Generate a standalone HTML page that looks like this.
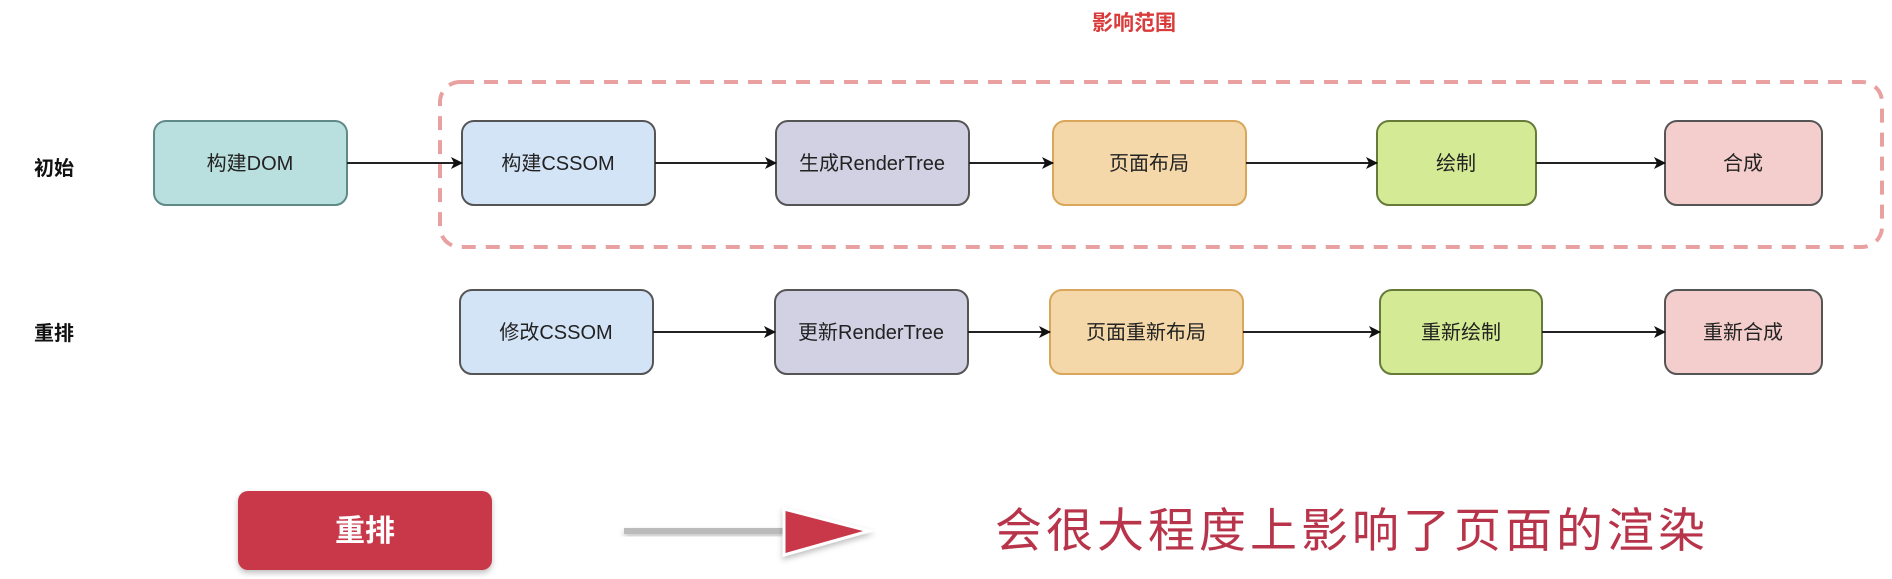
<!DOCTYPE html>
<html><head><meta charset="utf-8"><style>
html,body{margin:0;padding:0;background:#fff;}
svg{display:block;font-family:"Liberation Sans","Noto Sans CJK SC",sans-serif;}
</style></head><body>
<svg width="1892" height="579" viewBox="0 0 1892 579" xmlns="http://www.w3.org/2000/svg">
<defs>
<marker id="ar" markerWidth="12" markerHeight="12" refX="11" refY="6" orient="auto" markerUnits="userSpaceOnUse">
<path d="M0,0 L12,6 L0,12 L3,6 Z" fill="#111"/></marker>
<filter id="sh" x="-20%" y="-20%" width="140%" height="160%"><feDropShadow dx="0" dy="3" stdDeviation="3" flood-color="#000" flood-opacity="0.25"/></filter>
</defs>
<text x="1134" y="30" text-anchor="middle" font-size="21" font-weight="bold" fill="#d93a3a">影响范围</text>
<rect x="440" y="82" width="1442" height="165" rx="20" fill="none" stroke="#e8a0a0" stroke-width="4" stroke-dasharray="14,10"/>
<text x="34" y="175" font-size="20" font-weight="bold" fill="#111">初始</text>
<text x="34" y="340" font-size="20" font-weight="bold" fill="#111">重排</text>
<g stroke="#555" stroke-width="2" fill="#222">
<rect x="154" y="121" width="193" height="84" rx="12" fill="#b9e0de" stroke="#5f8a88"/>
<rect x="462" y="121" width="193" height="84" rx="12" fill="#d4e4f7"/>
<rect x="776" y="121" width="193" height="84" rx="12" fill="#d2d1e4"/>
<rect x="1053" y="121" width="193" height="84" rx="12" fill="#f4d8a9" stroke="#d9a65b"/>
<rect x="1377" y="121" width="159" height="84" rx="12" fill="#d4ea94" stroke="#667a3a"/>
<rect x="1665" y="121" width="157" height="84" rx="12" fill="#f4cecc"/>
<rect x="460" y="290" width="193" height="84" rx="12" fill="#d4e4f7"/>
<rect x="775" y="290" width="193" height="84" rx="12" fill="#d2d1e4"/>
<rect x="1050" y="290" width="193" height="84" rx="12" fill="#f4d8a9" stroke="#d9a65b"/>
<rect x="1380" y="290" width="162" height="84" rx="12" fill="#d4ea94" stroke="#667a3a"/>
<rect x="1665" y="290" width="157" height="84" rx="12" fill="#f4cecc"/>
</g>
<g stroke="#222" stroke-width="2" marker-end="url(#ar)">
<line x1="347" y1="163" x2="462" y2="163"/>
<line x1="655" y1="163" x2="776" y2="163"/>
<line x1="969" y1="163" x2="1053" y2="163"/>
<line x1="1246" y1="163" x2="1377" y2="163"/>
<line x1="1536" y1="163" x2="1665" y2="163"/>
<line x1="653" y1="332" x2="775" y2="332"/>
<line x1="968" y1="332" x2="1050" y2="332"/>
<line x1="1243" y1="332" x2="1380" y2="332"/>
<line x1="1542" y1="332" x2="1665" y2="332"/>
</g>
<g font-size="20" fill="#222" text-anchor="middle">
<text x="250" y="170">构建DOM</text>
<text x="558" y="170">构建CSSOM</text>
<text x="872" y="170">生成RenderTree</text>
<text x="1149" y="170">页面布局</text>
<text x="1456" y="170">绘制</text>
<text x="1743" y="170">合成</text>
<text x="556" y="339">修改CSSOM</text>
<text x="871" y="339">更新RenderTree</text>
<text x="1146" y="339">页面重新布局</text>
<text x="1461" y="339">重新绘制</text>
<text x="1743" y="339">重新合成</text>
</g>
<rect x="238" y="491" width="254" height="79" rx="10" fill="#c8374a" filter="url(#sh)"/>
<text x="365" y="541" text-anchor="middle" font-size="30" font-weight="bold" fill="#fff">重排</text>
<rect x="624" y="528" width="160" height="6" fill="#bbb" filter="url(#sh)"/>
<path d="M784,509 L869,531 L784,555 Z" fill="#c8374a" stroke="#fff" stroke-width="3" filter="url(#sh)"/>
<text x="995" y="547" font-size="47" letter-spacing="4" fill="#b8344a">会很大程度上影响了页面的渲染</text>
</svg>
</body></html>
